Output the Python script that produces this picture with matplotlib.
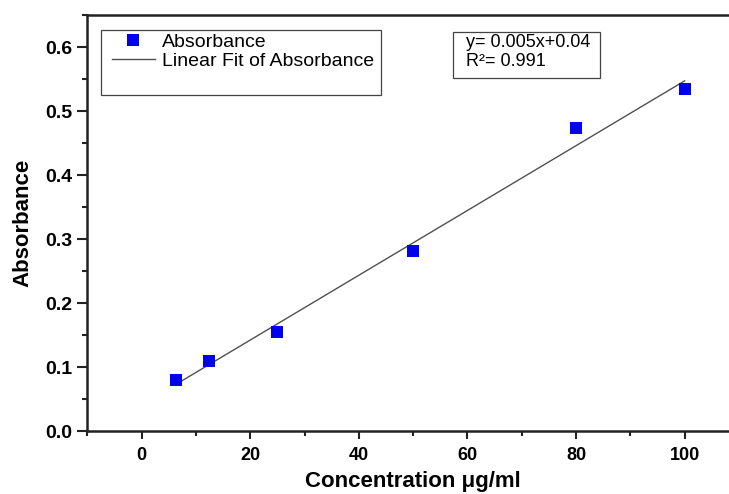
import numpy as np
import matplotlib
matplotlib.use("Agg")
import matplotlib.pyplot as plt
from matplotlib.patches import Rectangle
from matplotlib.lines import Line2D
from matplotlib.ticker import MultipleLocator

plt.rcParams['font.family'] = ['Liberation Sans', 'DejaVu Sans']

# data
concentration = [6.25, 12.5, 25, 50, 80, 100]
absorbance = [0.079, 0.109, 0.155, 0.281, 0.473, 0.534]
equation_text = "y= 0.005x+0.04\nR\u00b2= 0.991"

W, H = 729, 494
fig = plt.figure(figsize=(W / 100, H / 100), dpi=100)
# axes runs past the right edge of the figure, like the cropped original
left, right, top, bottom = 87.3, 739, 15, 431
ax = fig.add_axes([left / W, 1 - bottom / H, (right - left) / W, (bottom - top) / H])

slope, intercept = np.polyfit(concentration, absorbance, 1)
xfit = np.array([min(concentration), max(concentration)])
ax.plot(xfit, slope * xfit + intercept, color='#505050', lw=1.0, zorder=2)
ax.plot(concentration, absorbance, 's', color='#0000f0', markersize=8,
        markeredgewidth=0, zorder=3)

ax.set_xlim(-10, 110)
ax.set_ylim(0, 0.65)
ax.xaxis.set_minor_locator(MultipleLocator(10))
ax.yaxis.set_minor_locator(MultipleLocator(0.05))
ax.set_xticks([0, 20, 40, 60, 80, 100])
ax.set_yticks([0.0, 0.1, 0.2, 0.3, 0.4, 0.5, 0.6])
ax.set_yticklabels(['0.0', '0.1', '0.2', '0.3', '0.4', '0.5', '0.6'])

for s in ['left', 'bottom', 'top']:
    ax.spines[s].set_linewidth(1.8)
    ax.spines[s].set_color('#222222')
ax.spines['right'].set_visible(False)

ax.tick_params(axis='x', which='major', direction='out', length=5.5, width=1.5, pad=6,
               labelsize=13, color='#222222')
ax.tick_params(axis='y', which='major', direction='out', length=7, width=1.5, pad=4,
               labelsize=14, color='#222222')
ax.tick_params(which='minor', direction='out', length=3.5, width=1.5, color='#222222')
for lab in ax.get_xticklabels() + ax.get_yticklabels():
    lab.set_fontweight('bold')

ax.set_xlabel("Concentration \u03bcg/ml", fontsize=16, fontweight='bold', labelpad=5)
ax.set_ylabel("Absorbance", fontsize=16, fontweight='bold', labelpad=8)


def fx(px):
    return (px - left) / (right - left)


def fy(py):
    return (bottom - py) / (bottom - top)


# legend box
ax.add_patch(Rectangle((fx(100.7), fy(95)), fx(380.7) - fx(100.7), fy(30) - fy(95),
                       transform=ax.transAxes, fill=False, edgecolor='#444444', lw=0.9))
handles = [Line2D([], [], marker='s', ls='none', color='#0000f0', markersize=8, markeredgewidth=0),
           Line2D([], [], color='#505050', lw=1.0)]
ax.legend(handles, ['Absorbance', 'Linear Fit of Absorbance'], loc='upper left',
          bbox_to_anchor=(fx(112), fy(33)), frameon=False, borderpad=0, borderaxespad=0,
          handlelength=2.2, handletextpad=0.35, labelspacing=0.1, fontsize=14)

# equation box
ax.add_patch(Rectangle((fx(453), fy(78)), fx(600) - fx(453), fy(32) - fy(78),
                       transform=ax.transAxes, fill=False, edgecolor='#444444', lw=0.9))
ax.text(fx(466), fy(34), equation_text, transform=ax.transAxes, va='top', ha='left',
        fontsize=13, linespacing=1.15)

fig.savefig('out.png', dpi=100)
